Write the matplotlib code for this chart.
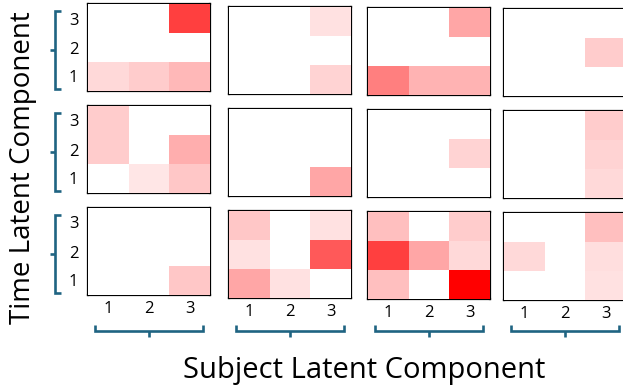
import numpy as np
import matplotlib.pyplot as plt
from matplotlib.colors import LinearSegmentedColormap
from matplotlib.lines import Line2D

# loadings per panel, rows = time component 3,2,1 (top to bottom),
# columns = subject component 1,2,3
p11 = [[0.00, 0.00, 0.75], [0.00, 0.00, 0.00], [0.15, 0.20, 0.28]]
p12 = [[0.00, 0.00, 0.12], [0.00, 0.00, 0.00], [0.00, 0.00, 0.17]]
p13 = [[0.00, 0.00, 0.35], [0.00, 0.00, 0.00], [0.50, 0.30, 0.30]]
p14 = [[0.00, 0.00, 0.00], [0.00, 0.00, 0.20], [0.00, 0.00, 0.00]]
p21 = [[0.20, 0.00, 0.00], [0.20, 0.00, 0.32], [0.00, 0.10, 0.22]]
p22 = [[0.00, 0.00, 0.00], [0.00, 0.00, 0.00], [0.00, 0.00, 0.35]]
p23 = [[0.00, 0.00, 0.00], [0.00, 0.00, 0.17], [0.00, 0.00, 0.00]]
p24 = [[0.00, 0.00, 0.20], [0.00, 0.00, 0.17], [0.00, 0.00, 0.15]]
p31 = [[0.00, 0.00, 0.00], [0.00, 0.00, 0.00], [0.00, 0.00, 0.22]]
p32 = [[0.22, 0.00, 0.12], [0.12, 0.00, 0.65], [0.35, 0.12, 0.00]]
p33 = [[0.25, 0.00, 0.20], [0.75, 0.35, 0.15], [0.25, 0.00, 1.00]]
p34 = [[0.00, 0.00, 0.25], [0.15, 0.00, 0.13], [0.00, 0.00, 0.12]]
panels = [[p11, p12, p13, p14],
          [p21, p22, p23, p24],
          [p31, p32, p33, p34]]

xlabels = ['1', '2', '3']
ylabels = ['3', '2', '1']

# figure / layout in pixels
W, H = 623, 390
fig = plt.figure(figsize=(W/100, H/100), dpi=100)
plt.rcParams['font.family'] = ['Open Sans', 'DejaVu Sans']

lefts  = [88, 229, 368, 504]
tops   = [4, 106, 208]
yshift = [0, 3, 4, 5]
pw, ph = 122, 87
brace  = '#1f6482'

cmap = LinearSegmentedColormap.from_list('wr', ['white', 'red'])

def px(x, y):
    return x/W, 1 - y/H

def pline(xs, ys):
    pts = [px(x, y) for x, y in zip(xs, ys)]
    fig.add_artist(Line2D([p[0] for p in pts], [p[1] for p in pts],
                          transform=fig.transFigure, color=brace, lw=1.9,
                          solid_joinstyle='miter', solid_capstyle='butt'))

for i in range(3):
    for j in range(4):
        top = tops[i] + yshift[j]
        x0, y1 = px(lefts[j], top + ph)
        ax = fig.add_axes([x0, y1, pw/W, ph/H])
        im = ax.imshow(np.array(panels[i][j]), cmap=cmap, vmin=0, vmax=1,
                       aspect='auto', interpolation='nearest')
        im.set_zorder(3)
        for s in ax.spines.values():
            s.set_linewidth(1.6)
            s.set_color('black')
        ax.tick_params(length=0, labelsize=12, pad=7)
        ax.tick_params(axis='x', pad=4)
        ax.set_xticks([0, 1, 2])
        ax.set_yticks([0, 1, 2])
        ax.set_xticklabels(xlabels if i == 2 else [])
        ax.set_yticklabels(ylabels if j == 0 else [])

        # left braces
        if j == 0:
            t, b = top + 7, top + 85
            m = (t + b) / 2
            pline([61, 55, 55, 61], [t, t, b, b])
            pline([55, 50], [m, m])
        # bottom braces
        if i == 2:
            l, r = lefts[j] + 7, lefts[j] + 115
            c = (l + r) / 2
            pline([l, l, r, r], [325, 331, 331, 325])
            pline([c, c], [331, 337])

fig.text(*px(23, 168), 'Time Latent Component', rotation=90,
         ha='center', va='center', fontsize=20)
fig.text(*px(364, 378), 'Subject Latent Component',
         ha='center', va='baseline', fontsize=21)

fig.savefig('out.png', dpi=100)
